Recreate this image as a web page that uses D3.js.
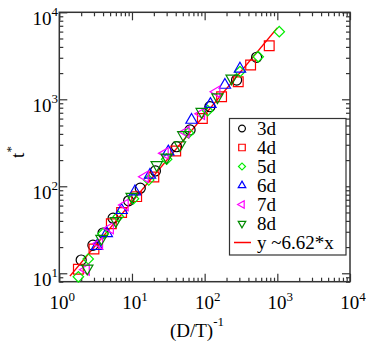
<!DOCTYPE html>
<html>
<head>
<meta charset="utf-8">
<script src="https://cdn.jsdelivr.net/npm/d3@7"></script>
<style>
  body { margin: 0; background: #fff; }
  svg text { font-family: "Liberation Serif", "Times New Roman", serif; fill: #000; }
</style>
</head>
<body>
<div class="chart"></div>
<script>

//////////
// DATA //
//////////

var seriesNames = ['3d', '4d', '5d', '6d', '7d', '8d'];
var fitLabel = 'y ~6.62*x';
var fitSlope = 6.62;
var fitRange = [1.4, 1000];

var x3d = [2.0, 2.9, 4.0, 5.5, 9.0, 13, 21, 41, 63, 118, 275, 519];
var y3d = [14.2, 21, 29, 43, 68, 95, 150, 285, 444, 822, 1667, 3040];

var x4d = [1.83, 3.0, 5.2, 7.2, 11.6, 20, 40, 93, 171, 290, 429, 774];
var y4d = [11.1, 19, 37, 50, 76, 128, 255, 600, 1072, 1592, 2475, 4130];

var x5d = [1.83, 2.5, 4.0, 6.5, 10.5, 17, 30, 60, 110, 306, 546, 1063];
var y5d = [9.1, 14.6, 28.5, 45, 72, 118, 205, 410, 740, 2080, 3090, 5990];

var x6d = [3.3, 4.5, 7.2, 11, 17.7, 31.6, 66, 120, 190, 306];
var y6d = [20.5, 28.8, 53, 87, 135, 250, 578, 880, 1459, 2240];

var x7d = [2.33, 3.55, 5.0, 8.0, 15.1, 28.4, 55, 90, 146];
var y7d = [11.0, 22, 33, 61, 129, 239, 420, 680, 1222];

var x8d = [2.43, 3.8, 6.0, 9.9, 21.9, 30, 45.7, 50.8, 91, 150, 235];
var y8d = [11.4, 25, 40, 76, 176, 215, 298, 389, 720, 1060, 1742];

var xTicks = [1, 10, 100, 1000, 10000];
var yTicks = [10, 100, 1000, 10000];

////////////////
// DIMENSIONS //
////////////////

var w = 366, h = 341;
var plot = { left: 59.3, right: 350, top: 12.3, bottom: 281.7 };

var svg = d3.select('.chart')
    .append('svg')
    .attr('width', w)
    .attr('height', h);

////////////
// SCALES //
////////////

var xScale = d3.scaleLog()
    .domain([1, 10000])
    .range([plot.left, plot.right]);

var yScale = d3.scaleLog()
    .domain([8, 10000])
    .range([plot.bottom, plot.top]);

/////////////
// SYMBOLS //
/////////////

var styles = [
    { color: '#000000', type: d3.symbolCircle, size: 80, rot: 0 },
    { color: '#ff0000', type: d3.symbolSquare, size: 95, rot: 0 },
    { color: '#00ee00', type: d3.symbolSquare, size: 55, rot: 45 },
    { color: '#0000ff', type: d3.symbolTriangle, size: 55, rot: 0 },
    { color: '#ff00ff', type: d3.symbolTriangle, size: 55, rot: -90 },
    { color: '#008b00', type: d3.symbolTriangle, size: 55, rot: 180 }
];

var series = [
    d3.zip(x3d, y3d), d3.zip(x4d, y4d), d3.zip(x5d, y5d),
    d3.zip(x6d, y6d), d3.zip(x7d, y7d), d3.zip(x8d, y8d)
];

//////////
// AXES //
//////////

var minorTicks = [];
[1, 10, 100, 1000].forEach(function(d) {
    for (var k = 2; k <= 9; k++) minorTicks.push(d * k);
});
var minorY = minorTicks.filter(function(d) { return d >= 8; });

function addAxis(axis, transform, values, size) {
    svg.append('g')
        .attr('transform', transform)
        .call(axis.tickValues(values).tickSize(size).tickFormat(''))
        .call(function(g) {
            g.select('.domain').remove();
            g.selectAll('line').attr('stroke', '#333').attr('stroke-width', 1.2);
        });
}

// inward ticks on all four sides
addAxis(d3.axisTop(xScale), 'translate(0,' + plot.bottom + ')', xTicks, 8);
addAxis(d3.axisTop(xScale), 'translate(0,' + plot.bottom + ')', minorTicks, 4);
addAxis(d3.axisBottom(xScale), 'translate(0,' + plot.top + ')', xTicks, 8);
addAxis(d3.axisBottom(xScale), 'translate(0,' + plot.top + ')', minorTicks, 4);
addAxis(d3.axisRight(yScale), 'translate(' + plot.left + ',0)', yTicks, 8);
addAxis(d3.axisRight(yScale), 'translate(' + plot.left + ',0)', minorY, 4);
addAxis(d3.axisLeft(yScale), 'translate(' + plot.right + ',0)', yTicks, 8);
addAxis(d3.axisLeft(yScale), 'translate(' + plot.right + ',0)', minorY, 4);

svg.append('rect')
    .attr('x', plot.left)
    .attr('y', plot.top)
    .attr('width', plot.right - plot.left)
    .attr('height', plot.bottom - plot.top)
    .attr('fill', 'none')
    .attr('stroke', '#333')
    .attr('stroke-width', 1.5);

// tick labels
function expLabel(sel, exp) {
    sel.append('tspan').text('10');
    sel.append('tspan')
        .attr('font-size', 13)
        .attr('dy', -8.5)
        .text(exp);
}

xTicks.forEach(function(d) {
    var t = svg.append('text')
        .attr('x', xScale(d) + 3)
        .attr('y', 309)
        .attr('font-size', 19)
        .attr('text-anchor', 'middle');
    expLabel(t, Math.round(Math.log10(d)));
});

yTicks.forEach(function(d) {
    var t = svg.append('text')
        .attr('x', 58)
        .attr('y', yScale(d) + 12.5)
        .attr('font-size', 19)
        .attr('text-anchor', 'end');
    expLabel(t, Math.round(Math.log10(d)));
});

// axis titles
var xt = svg.append('text')
    .attr('x', 197)
    .attr('y', 337)
    .attr('font-size', 19)
    .attr('text-anchor', 'middle');
xt.append('tspan').text('(D/T)');
xt.append('tspan').attr('font-size', 13).attr('dy', -11).text('-1');

var yt = svg.append('text')
    .attr('transform', 'translate(24,152) rotate(-90)')
    .attr('font-size', 19)
    .attr('text-anchor', 'middle');
yt.append('tspan').text('t');
yt.append('tspan').attr('font-size', 13).attr('dy', -9).text('*');

//////////////
// FIT LINE //
//////////////

svg.append('line')
    .attr('x1', xScale(fitRange[0]))
    .attr('y1', yScale(fitSlope * fitRange[0]))
    .attr('x2', xScale(fitRange[1]))
    .attr('y2', yScale(fitSlope * fitRange[1]))
    .attr('stroke', '#ff0000')
    .attr('stroke-width', 1.5);

////////////
// POINTS //
////////////

series.forEach(function(pts, i) {
    var s = styles[i];
    svg.append('g').selectAll('path')
        .data(pts)
        .enter()
        .append('path')
        .attr('d', d3.symbol().type(s.type).size(s.size))
        .attr('transform', function(d) {
            return 'translate(' + xScale(d[0]) + ',' + yScale(d[1]) + ') rotate(' + s.rot + ')';
        })
        .attr('fill', 'none')
        .attr('stroke', s.color)
        .attr('stroke-width', 1.2);
});

////////////
// LEGEND //
////////////

var legend = svg.append('g');

legend.append('rect')
    .attr('x', 229.5)
    .attr('y', 118.5)
    .attr('width', 116.5)
    .attr('height', 136.5)
    .attr('fill', '#fff')
    .attr('stroke', '#333')
    .attr('stroke-width', 1.2);

seriesNames.forEach(function(name, i) {
    var s = styles[i];
    var cy = 128.5 + i * 19;
    legend.append('path')
        .attr('d', d3.symbol().type(s.type).size(s.size * 0.45))
        .attr('transform', 'translate(242,' + cy + ') rotate(' + s.rot + ')')
        .attr('fill', 'none')
        .attr('stroke', s.color)
        .attr('stroke-width', 1.2);
    legend.append('text')
        .attr('x', 257)
        .attr('y', cy + 6.5)
        .attr('font-size', 19)
        .text(name);
});

var fy = 128.5 + 6 * 19;
legend.append('line')
    .attr('x1', 234).attr('x2', 251)
    .attr('y1', fy).attr('y2', fy)
    .attr('stroke', '#ff0000')
    .attr('stroke-width', 1.5);
legend.append('text')
    .attr('x', 257)
    .attr('y', fy + 6.5)
    .attr('font-size', 19)
    .text(fitLabel);

</script>
</body>
</html>
